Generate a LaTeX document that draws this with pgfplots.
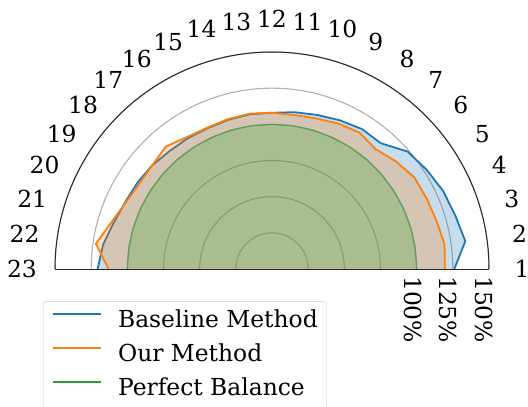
\documentclass[border=0pt]{standalone}
\usepackage{pgfplots}
\pgfplotsset{compat=1.18}
\usepgfplotslibrary{polar}
\usepackage{pgfplotstable}
\usepackage{fontspec}
\setmainfont{DejaVu Serif}
\definecolor{tabblue}{HTML}{1F77B4}
\definecolor{taborange}{HTML}{FF7F0E}
\definecolor{tabgreen}{HTML}{2CA02C}
\definecolor{gridgray}{HTML}{B0B0B0}

\pgfplotstableread{
ang      base   ours   bal
0        126    119.5  100
8.1818   135    120.5  100
16.3636  132    118.5  100
24.5455  130    117.5  100
32.7273  127    117    100
40.9091  124    113.5  100
49.0909  115    109.5  100
57.2727  115    112    100
65.4545  113    110.5  100
73.6364  111    108.5  100
81.8182  109.5  107.5  100
90       108    108    100
98.1818  108    108.5  100
106.3636 107.5  108    100
114.5455 107    107.5  100
122.7273 107.5  108.5  100
130.9091 108    112    100
139.0909 109.5  109.5  100
147.2727 110.5  109    100
155.4545 111.5  111    100
163.6364 114    115.5  100
171.8182 118    123    100
180      120.5  113    100
}\data

\begin{document}
\begin{tikzpicture}[font=\fontsize{23.4bp}{28bp}\selectfont]
\begin{polaraxis}[
  xmin=0, xmax=180, ymin=0, ymax=150,
  scale only axis, width=434bp, height=434bp,
  xtick=\empty,
  ytick={25,50,75,100,125,150},
  yticklabels=\empty,
  ymajorgrids=true,
  major tick length=0pt,
  grid style={color=gridgray, line width=1.1bp},
  axis line style={color=black!85, line width=1bp},
  clip=false,
  legend cell align=left,
  legend style={
    at={(axis cs:188,159.8)}, anchor=north west,
    draw=black!20, rounded corners=3bp, fill=white, fill opacity=0.8, text opacity=1,
    font=\fontsize{23.4bp}{28bp}\selectfont,
    inner xsep=9bp, inner ysep=9bp, row sep=12bp,
    nodes={inner sep=0bp, text height=17bp, text depth=5bp},
    /tikz/every odd column/.append style={column sep=16bp},
  },
]
\coordinate (C) at (axis cs:0,0);
\addplot[tabblue, line width=1.8bp,
  legend image code/.code={\draw[tabblue, line width=1.8bp] (0bp,7bp) -- (48bp,7bp);}]
  table[x=ang, y=base]{\data};
\addlegendentry{Baseline Method}
\addplot[draw=none, fill=tabblue, fill opacity=0.25, forget plot] table[x=ang, y=base]{\data} -- cycle;
\addplot[taborange, line width=1.8bp,
  legend image code/.code={\draw[taborange, line width=1.8bp] (0bp,7bp) -- (48bp,7bp);}]
  table[x=ang, y=ours]{\data};
\addlegendentry{Our Method}
\addplot[draw=none, fill=taborange, fill opacity=0.25, forget plot] table[x=ang, y=ours]{\data} -- cycle;
\addplot[tabgreen, line width=1.4bp, draw opacity=0.5,
  legend image code/.code={\draw[tabgreen, draw opacity=1, line width=1.8bp] (0bp,7bp) -- (48bp,7bp);}]
  table[x=ang, y=bal]{\data};
\addlegendentry{Perfect Balance}
\addplot[draw=none, fill=tabgreen, fill opacity=0.25, forget plot] table[x=ang, y=bal]{\data} -- cycle;
\end{polaraxis}
\foreach \i in {1,...,23} {
  \node[inner sep=0pt] at ([shift={({(\i-1)*180/22}:250bp)}]C) {\i};
}
\node[rotate=-90, anchor=west, inner sep=0pt] at ([shift={(141bp,-7bp)}]C) {100\%};
\node[rotate=-90, anchor=west, inner sep=0pt] at ([shift={(176bp,-7bp)}]C) {125\%};
\node[rotate=-90, anchor=west, inner sep=0pt] at ([shift={(212bp,-7bp)}]C) {150\%};
\pgfresetboundingbox
\path[use as bounding box] ([shift={(-272bp,-138bp)}]C) rectangle ++(528bp,407bp);
\end{tikzpicture}
\end{document}
